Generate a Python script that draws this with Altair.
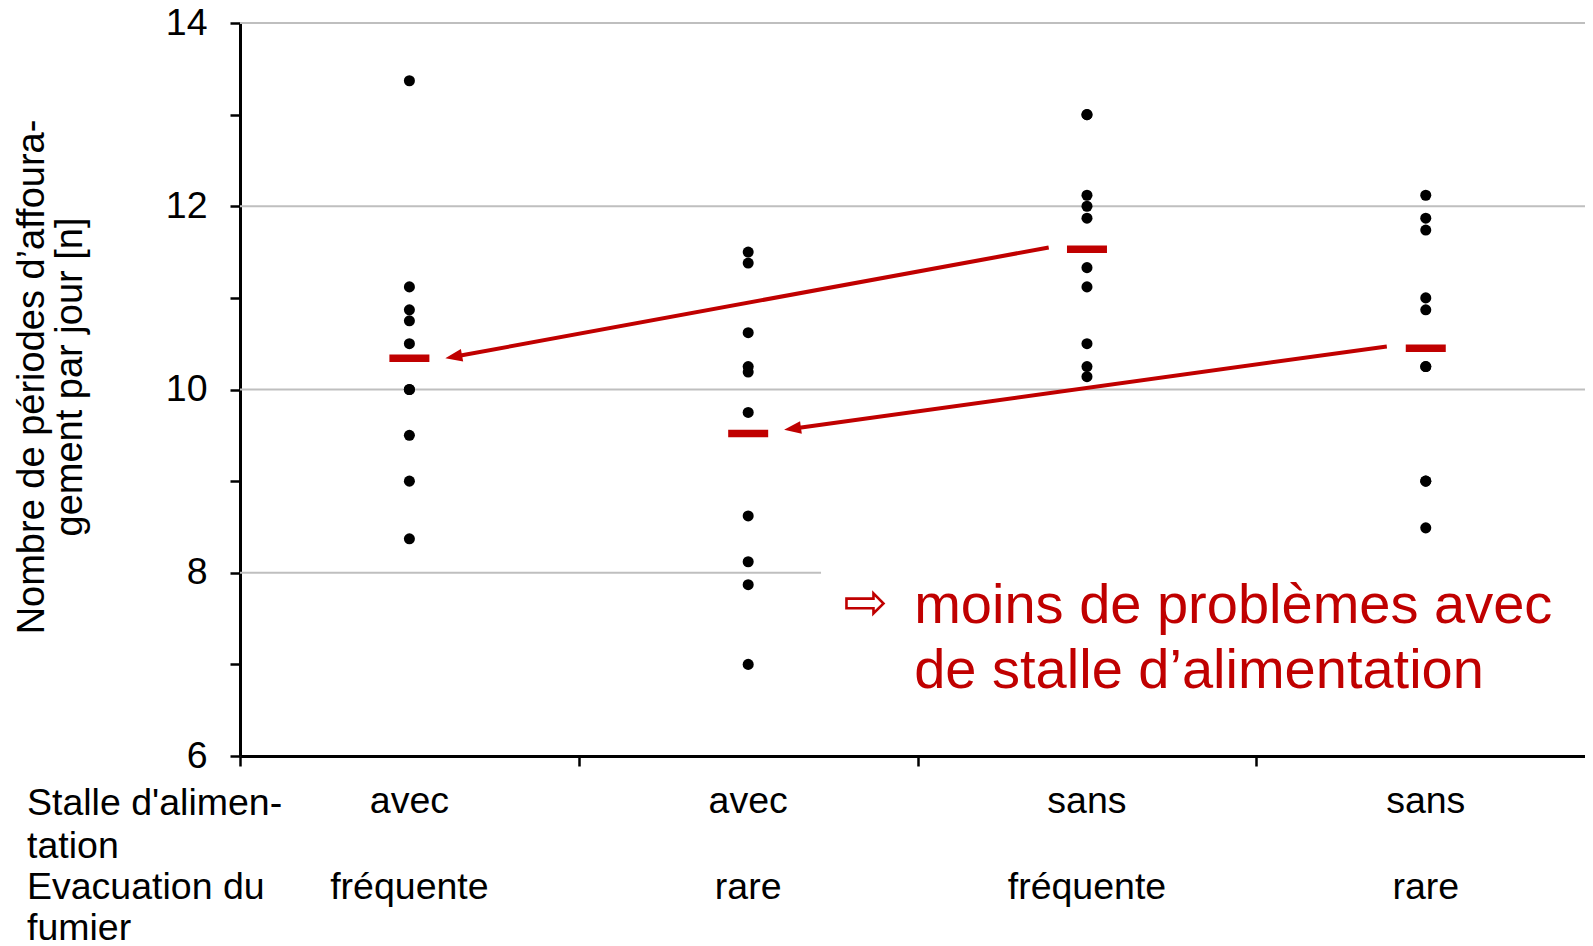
import math
import altair as alt
import pandas as pd

# ---------------- data ----------------
cat_top = ["avec", "avec", "sans", "sans"]
cat_bottom = ["fréquente", "rare", "fréquente", "rare"]
cat_pos = [0.5, 1.5, 2.5, 3.5]

vals_avec_freq = [13.37, 11.12, 10.87, 10.75, 10.50, 10.0, 10.0, 9.50, 9.0, 8.37]
vals_avec_rare = [11.50, 11.38, 10.62, 10.25, 10.19, 9.75, 8.62, 8.12, 7.87, 7.0]
vals_sans_freq = [13.0, 13.0, 12.12, 12.0, 11.87, 11.33, 11.12, 10.50, 10.25, 10.14]
vals_sans_rare = [12.12, 11.87, 11.74, 11.0, 10.87, 10.25, 10.25, 9.0, 9.0, 8.49]
mean_values = [10.34, 9.52, 11.53, 10.45]

arrow_from_x = [2.387, 3.385]
arrow_from_y = [11.55, 10.47]
arrow_to_x = [0.606, 1.606]
arrow_to_y = [10.34, 9.56]

grid_values = [8, 10, 12, 14]
y_tick_values = [6, 7, 8, 9, 10, 11, 12, 13, 14]
x_tick_values = [0, 1, 2, 3]

note_text = ["moins de problèmes avec\nde stalle d’alimentation"]
note_x = [1.99]
note_y = [7.45]
note_symbol = ["⇨"]
symbol_x = [1.846]
symbol_y = [7.66]

mask_x = [1.715]
mask_y = [7.0]
mask_y2 = [8.3]

row_header_1 = ["Stalle d'alimen-\ntation"]
row_header_2 = ["Evacuation du\nfumier"]
y_title = ["Nombre de périodes d’affoura-\ngement par jour [n]"]

# ---------------- layout / style ----------------
XMAX = 3.97
W, H = 1345, 733
PXX = W / XMAX
PXY = H / 8.0
RED = "#C00000"
FONT = "Liberation Sans"
FS = 37.5

x_scale = alt.Scale(domain=[0, XMAX], nice=False, zero=False)
y_scale = alt.Scale(domain=[6, 14], nice=False, zero=False)

x_axis = alt.Axis(values=x_tick_values, labels=False, title=None, grid=False,
                  tickSize=10, tickWidth=2.5, tickColor="black",
                  domainWidth=3, domainColor="black")
y_axis = alt.Axis(values=y_tick_values, title=None, grid=False,
                  labelExpr="datum.value % 2 == 0 ? datum.label : ''",
                  labelFont=FONT, labelFontSize=FS, labelColor="black",
                  labelPadding=23, labelOverlap=False,
                  tickSize=10, tickWidth=2.5, tickColor="black",
                  domainWidth=3, domainColor="black")


def X(field):
    return alt.X(field, type="quantitative", scale=x_scale, axis=x_axis)


def Y(field):
    return alt.Y(field, type="quantitative", scale=y_scale, axis=y_axis)


# dots
dot_rows = []
for pos, vals in zip(cat_pos, [vals_avec_freq, vals_avec_rare, vals_sans_freq, vals_sans_rare]):
    for v in vals:
        dot_rows.append({"x": pos, "y": v})
dots_df = pd.DataFrame(dot_rows)

half = 20 / PXX
means_df = pd.DataFrame({"x1": [p - half for p in cat_pos], "x2": [p + half for p in cat_pos], "y": mean_values})

arrow_rows = []
for xf, yf, xt, yt in zip(arrow_from_x, arrow_from_y, arrow_to_x, arrow_to_y):
    dx = (xt - xf) * PXX
    dy = -(yt - yf) * PXY
    L = math.hypot(dx, dy)
    ux, uy = dx / L, dy / L
    ang = math.degrees(math.atan2(-dy, -dx)) % 360
    arrow_rows.append({"xf": xf, "yf": yf,
                       "xe": xt - 10 * ux / PXX, "ye": yt + 10 * uy / PXY,
                       "xt": xt, "yt": yt, "angle": ang})
arrows_df = pd.DataFrame(arrow_rows)

grid = alt.Chart(pd.DataFrame({"g": grid_values})).mark_rule(
    color="#BFBFBF", strokeWidth=2).encode(y=Y("g"))

mask = alt.Chart(pd.DataFrame({"x": mask_x, "x2": [XMAX], "y": mask_y, "y2": mask_y2})).mark_rect(
    color="white").encode(x=X("x"), x2="x2", y=Y("y"), y2="y2")

dots = alt.Chart(dots_df).mark_circle(size=122, color="black", opacity=1).encode(
    x=X("x"), y=Y("y"))

means = alt.Chart(means_df).mark_rule(color=RED, strokeWidth=7.5, strokeCap="butt").encode(
    x=X("x1"), x2="x2", y=Y("y"))

arrow_lines = alt.Chart(arrows_df).mark_rule(color=RED, strokeWidth=4, strokeCap="butt").encode(
    x=X("xf"), y=Y("yf"), x2="xe", y2="ye")

arrow_heads = alt.Chart(arrows_df).mark_point(
    shape="M0,0L2,-0.75L2,0.75Z", size=289, filled=True, color=RED, opacity=1).encode(
    x=X("xt"), y=Y("yt"), angle=alt.Angle("angle:Q", scale=None))

cat_df = pd.DataFrame({"x": cat_pos, "top": cat_top, "bottom": cat_bottom})
cat_labels_top = alt.Chart(cat_df).mark_text(
    font=FONT, fontSize=FS, color="black", align="center", baseline="alphabetic").encode(
    x=X("x"), y=alt.value(790), text="top:N")
cat_labels_bottom = alt.Chart(cat_df).mark_text(
    font=FONT, fontSize=FS, color="black", align="center", baseline="alphabetic").encode(
    x=X("x"), y=alt.value(876), text="bottom:N")

hdr1 = alt.Chart(pd.DataFrame({"t": row_header_1})).mark_text(
    font=FONT, fontSize=FS, color="black", align="left", baseline="alphabetic",
    lineBreak="\n", lineHeight=43).encode(x=alt.value(-213), y=alt.value(792), text="t:N")
hdr2 = alt.Chart(pd.DataFrame({"t": row_header_2})).mark_text(
    font=FONT, fontSize=FS, color="black", align="left", baseline="alphabetic",
    lineBreak="\n", lineHeight=41).encode(x=alt.value(-213), y=alt.value(876), text="t:N")

ytitle = alt.Chart(pd.DataFrame({"t": y_title})).mark_text(
    font=FONT, fontSize=38, color="black", align="center", baseline="alphabetic",
    angle=270, lineBreak="\n", lineHeight=37.5).encode(
    x=alt.value(-196), y=alt.value(354), text="t:N")

note = alt.Chart(pd.DataFrame({"x": note_x, "y": note_y, "t": note_text})).mark_text(
    font=FONT, fontSize=56, color=RED, align="left", baseline="alphabetic",
    lineBreak="\n", lineHeight=65).encode(x=X("x"), y=Y("y"), text="t:N")

symbol = alt.Chart(pd.DataFrame({"x": symbol_x, "y": symbol_y, "t": note_symbol})).mark_text(
    font="DejaVu Sans", fontSize=53, color=RED, align="center", baseline="middle").encode(
    x=X("x"), y=Y("y"), text="t:N")

chart = alt.layer(
    grid, mask, dots, means, arrow_lines, arrow_heads,
    cat_labels_top, cat_labels_bottom, hdr1, hdr2, ytitle, note, symbol
).properties(
    width=W, height=H,
    autosize=alt.AutoSizeParams(type="none"),
    padding={"left": 232, "top": 15, "right": 0, "bottom": 190},
).configure_view(stroke=None).configure(background="white")

chart.save("out.html", embed_options={"renderer": "svg", "actions": False})
